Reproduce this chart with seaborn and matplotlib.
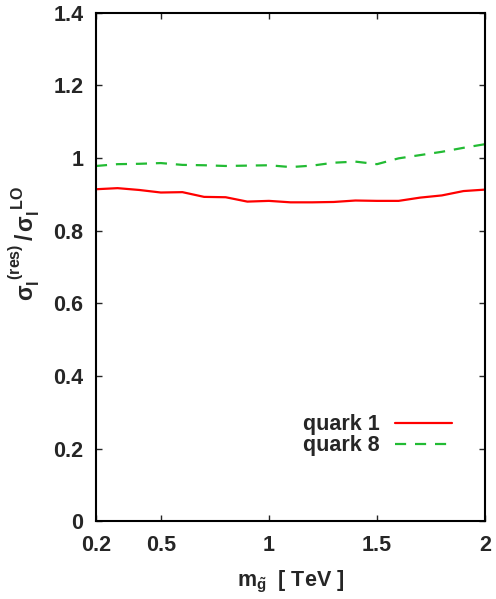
import numpy as np
import pandas as pd
import matplotlib
matplotlib.use("Agg")
import matplotlib.pyplot as plt
import seaborn as sns

sns.set_theme(style="ticks")
plt.rcParams['font.family'] = ['Liberation Sans', 'DejaVu Sans']
plt.rcParams['font.weight'] = 'bold'
plt.rcParams['mathtext.fontset'] = 'custom'
plt.rcParams['mathtext.rm'] = 'Liberation Sans:bold'
plt.rcParams['mathtext.it'] = 'Liberation Sans:bold'
plt.rcParams['mathtext.bf'] = 'Liberation Sans:bold'

# gluino mass in TeV
mass = [0.2, 0.3, 0.4, 0.5, 0.6, 0.7, 0.8, 0.9, 1.0, 1.1,
        1.2, 1.3, 1.4, 1.5, 1.6, 1.7, 1.8, 1.9, 2.0]
quark1 = [0.914, 0.917, 0.912, 0.905, 0.906, 0.893, 0.892, 0.880, 0.882, 0.878,
          0.878, 0.879, 0.883, 0.882, 0.882, 0.891, 0.897, 0.909, 0.913]
quark8 = [0.978, 0.983, 0.984, 0.986, 0.981, 0.980, 0.978, 0.979, 0.980, 0.975,
          0.979, 0.987, 0.990, 0.983, 0.999, 1.008, 1.017, 1.028, 1.038]
xticks = [0.2, 0.5, 1, 1.5, 2]
xtick_labels = ['0.2', '0.5', '1', '1.5', '2']
yticks = [0, 0.2, 0.4, 0.6, 0.8, 1, 1.2, 1.4]
ytick_labels = ['0', '0.2', '0.4', '0.6', '0.8', '1', '1.2', '1.4']

df = pd.DataFrame({'mass': mass, 'quark 1': quark1, 'quark 8': quark8})

fig = plt.figure(figsize=(4.96, 5.99), dpi=100)
ax = fig.add_axes([0.1935, 0.1294, 0.7845, 0.8496])

sns.lineplot(x='mass', y='quark 1', data=df, ax=ax, color='#ff0000', lw=1.6, label='quark 1')
sns.lineplot(x='mass', y='quark 8', data=df, ax=ax, color='#22bb33', lw=1.6,
             dashes=False, label='quark 8')
ax.lines[1].set_dashes([5, 4])

ax.set_xlim(0.2, 2)
ax.set_ylim(0, 1.4)
ax.set_xticks(xticks)
ax.set_xticklabels(xtick_labels)
ax.set_yticks(yticks)
ax.set_yticklabels(ytick_labels)
ax.tick_params(direction='in', length=4, width=1, top=True, right=True,
               labelsize=15.5)
ax.tick_params(axis='y', pad=9)
ax.tick_params(axis='x', pad=10)
for lab in ax.get_xticklabels() + ax.get_yticklabels():
    lab.set_fontweight('bold')
for s in ax.spines.values():
    s.set_linewidth(1.5)
    s.set_color('black')

ax.set_xlabel(r'$m_{\tilde{g}}$  [ TeV ]', fontsize=15.5, fontweight='bold')
ax.xaxis.set_label_coords(0.5, -0.093)
ax.set_ylabel(r'$\sigma_l^{\ (res)}\,/\,\sigma_l^{\ LO}$', fontsize=16.5,
              fontweight='bold')
ax.yaxis.set_label_coords(-0.139, 0.546)

leg = ax.legend(loc='lower right', bbox_to_anchor=(0.915, 0.128), frameon=False,
                markerfirst=False, handlelength=2.65,
                prop={'weight': 'bold', 'size': 15.5}, labelspacing=0.0,
                handletextpad=0.7, borderpad=0, borderaxespad=0)

fig.savefig('out.png', dpi=100)
